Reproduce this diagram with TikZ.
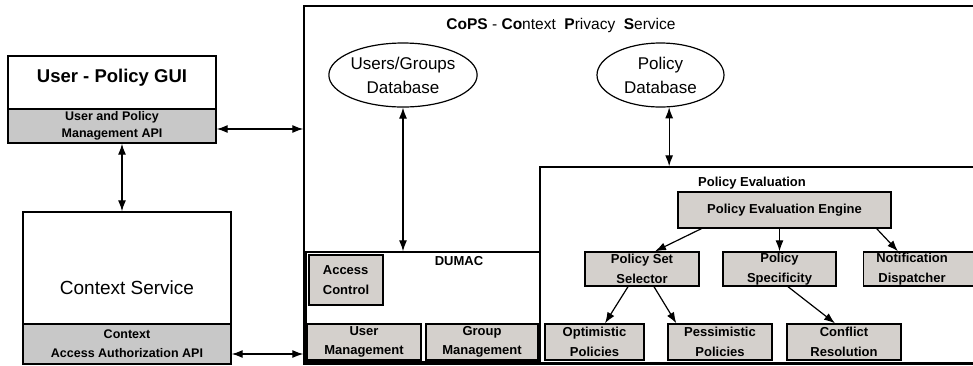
\documentclass[tikz,border=0pt]{standalone}
\usepackage{fontspec}
\setmainfont{Liberation Sans}
\usetikzlibrary{shapes.geometric,arrows.meta}
\definecolor{bandgray}{RGB}{200,200,200}
\definecolor{boxgray}{RGB}{212,208,204}

\begin{document}
\begin{tikzpicture}[x=1pt,y=-1pt,line width=1.2pt,>={Latex[length=11pt,width=8pt]},
	box/.style={draw,line width=1.4pt,fill=white,inner sep=0pt},
	api/.style={draw,line width=1.4pt,fill=bandgray,align=center,inner sep=0pt,font=\fontsize{12.5}{17}\selectfont\bfseries},
	g/.style={draw,line width=1.4pt,fill=boxgray,align=center,inner sep=0pt,font=\fontsize{13}{19.5}\selectfont\bfseries},
	db/.style={draw,ellipse,align=center,inner sep=0pt,font=\fontsize{17}{24}\selectfont},
	lbl/.style={font=\fontsize{13}{15}\selectfont\bfseries}]
					\useasboundingbox (0,0) rectangle (973,365);
					\clip (0,0) rectangle (973,365);
					\node[box,minimum width=208pt,minimum height=87pt] (gui) at (112,99.5) {};
					\node[font=\fontsize{18.5}{22}\selectfont\bfseries] (guititle) at (112,78) {User - Policy GUI};
					\node[api,minimum width=208pt,minimum height=34pt] (guiapi) at (112,126) {User and Policy\\Management API};
					\node[box,minimum width=208pt,minimum height=152pt,font=\fontsize{19}{23}\selectfont] (ctx) at (127,288) {Context Service};
					\node[api,minimum width=208pt,minimum height=40pt,font=\fontsize{12.5}{19}\selectfont\bfseries] (ctxapi) at (127,344) {Context\\Access Authorization API};
					\node[box,minimum width=681pt,minimum height=358pt] (cops) at (644.5,185) {};
					\node[font=\fontsize{15.5}{18}\selectfont] (title) at (561,25) {\textbf{CoPS} - \textbf{Co}ntext\ \ \textbf{P}rivacy\ \ \textbf{S}ervice};
					\node[db,minimum width=122pt,minimum height=64pt] (ugdb) at (403,75) {Users/Groups\\Database};
					\node[db,minimum width=127pt,minimum height=64pt] (pdb) at (660.5,75) {Policy\\Database};
					\node[box,minimum width=234pt,minimum height=110pt] (dumac) at (423,307) {};
					\node[lbl] (dumaclabel) at (459,261) {DUMAC};
					\node[g,align=left,minimum width=74pt,minimum height=50pt] (acc) at (346,280) {Access\\Control};
					\node[g,minimum width=114pt,minimum height=36pt] (usrm) at (364,342) {User\\Management};
					\node[g,minimum width=112pt,minimum height=36pt] (grpm) at (482,342) {Group\\Management};
					\node[box,minimum width=445pt,minimum height=196pt] (pe) at (762.5,265) {};
					\node[lbl] (pelabel) at (752,183) {Policy Evaluation};
					\node[g,minimum width=213pt,minimum height=36pt] (engine) at (784.5,210) {Policy Evaluation Engine};
					\node[g,minimum width=114pt,minimum height=34pt] (pss) at (642,269) {Policy Set\\Selector};
					\node[g,minimum width=113pt,minimum height=34pt] (spec) at (779.5,269) {Policy\\Specificity};
					\node[g,minimum width=130pt,minimum height=34pt,anchor=west] (notif) at (863,269) {};
					\node[lbl,align=center,font=\fontsize{13}{19.5}\selectfont\bfseries] (notiftext) at (912,269) {Notification\\Dispatcher};
					\node[g,minimum width=99pt,minimum height=36pt] (opt) at (594.5,342) {Optimistic\\Policies};
					\node[g,minimum width=104pt,minimum height=36pt] (pess) at (720,342) {Pessimistic\\Policies};
					\node[g,minimum width=114pt,minimum height=36pt] (conf) at (844,342) {Conflict\\Resolution};
					\draw[<->] ([yshift=-3pt]guiapi.east) -- ([yshift=-3pt]guiapi.east -| cops.west);
					\draw[<->] ([yshift=-10pt]ctxapi.east) -- ([yshift=-10pt]ctxapi.east -| cops.west);
					\draw[<->] ([xshift=10pt]guiapi.south) -- ([xshift=-5pt]ctx.north);
					\draw[<->] (ugdb.south) -- (ugdb.south |- dumac.north);
					\draw[<->] (pdb.-75) -- (pdb.-75 |- pe.north);
					\draw[->] ([xshift=24pt]engine.south west) -- ([xshift=13pt]pss.north);
					\draw[->] (engine.south -| spec.north) -- (spec.north);
					\draw[->] ([xshift=-15pt]engine.south east) -- ([xshift=35pt]notif.north west);
					\draw[->] ([xshift=-14pt]pss.south) -- ([xshift=10.5pt]opt.north);
					\draw[->] ([xshift=12pt]pss.south) -- ([xshift=9pt]pess.north west);
					\draw[->] ([xshift=8.5pt]spec.south) -- ([xshift=-9pt]conf.north);
			\end{tikzpicture}
\end{document}
